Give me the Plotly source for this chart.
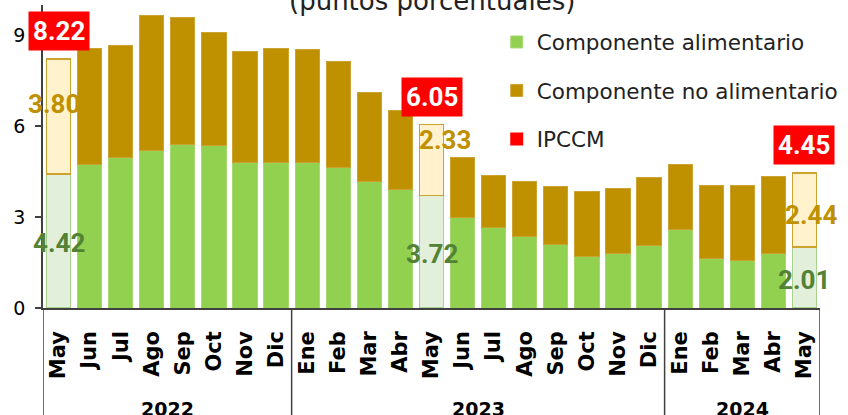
import plotly.graph_objects as go

# ---------------- data ----------------
months = ["May", "Jun", "Jul", "Ago", "Sep", "Oct", "Nov", "Dic",
          "Ene", "Feb", "Mar", "Abr", "May", "Jun", "Jul", "Ago", "Sep", "Oct", "Nov", "Dic",
          "Ene", "Feb", "Mar", "Abr", "May"]
years = ["2022", "2023", "2024"]
year_counts = [8, 12, 5]
food = [4.42, 4.74, 4.96, 5.21, 5.40, 5.37, 4.81, 4.80,
        4.80, 4.64, 4.17, 3.92, 3.72, 2.99, 2.65, 2.36, 2.09, 1.70, 1.80, 2.06,
        2.58, 1.65, 1.58, 1.80, 2.01]
nonfood = [3.80, 3.82, 3.69, 4.43, 4.20, 3.73, 3.66, 3.76,
           3.74, 3.49, 2.94, 2.60, 2.33, 1.97, 1.72, 1.82, 1.93, 2.13, 2.13, 2.24,
           2.15, 2.40, 2.47, 2.54, 2.44]
ipccm = [8.22, 8.56, 8.65, 9.64, 9.60, 9.10, 8.47, 8.56,
         8.54, 8.13, 7.11, 6.52, 6.05, 4.96, 4.37, 4.18, 4.02, 3.83, 3.93, 4.30,
         4.73, 4.05, 4.05, 4.34, 4.45]
highlight_month = "May"
title_text = "(puntos porcentuales)"
names = ["Componente alimentario", "Componente no alimentario", "IPCCM"]

# ---------------- styles ----------------
GREEN, GREEN_LINE = "#92D050", "#A6D872"
GREEN_HI, GREEN_HI_LINE, GREEN_TXT = "#E2EFDA", "#A9D18E", "#548235"
GOLD, GOLD_LINE = "#BF9000", "#CBA233"
GOLD_HI, GOLD_HI_LINE = "#FFF2CC", "#CDA22E"
RED = "#FF0000"
AXIS = "#404040"
TXT_FONT = "DejaVu Sans"
NUM_FONT = "Roboto"
BAR_W = 0.78

x_all = list(range(len(months)))
hl_idx = [i for i, m in enumerate(months) if m == highlight_month]
nm_idx = [i for i in x_all if i not in hl_idx]

fig = go.Figure()
# food component: regular and highlighted bars
fig.add_trace(go.Bar(
    x=nm_idx, y=[food[i] for i in nm_idx], name=names[0], legendgroup="a",
    marker=dict(color=GREEN, line=dict(color=GREEN_LINE, width=1)),
    width=BAR_W, hoverinfo="skip"))
fig.add_trace(go.Bar(
    x=hl_idx, y=[food[i] for i in hl_idx], name=names[0], showlegend=False,
    marker=dict(color=GREEN_HI, line=dict(color=GREEN_HI_LINE, width=1.5)),
    width=BAR_W, hoverinfo="skip"))
# non-food component
fig.add_trace(go.Bar(
    x=nm_idx, y=[nonfood[i] for i in nm_idx], name=names[1], legendgroup="b",
    marker=dict(color=GOLD, line=dict(color=GOLD_LINE, width=1)),
    width=BAR_W, hoverinfo="skip"))
fig.add_trace(go.Bar(
    x=hl_idx, y=[nonfood[i] for i in hl_idx], name=names[1], showlegend=False,
    marker=dict(color=GOLD_HI, line=dict(color=GOLD_HI_LINE, width=1.5)),
    width=BAR_W, hoverinfo="skip"))
# IPCCM legend entry (values shown as labelled boxes)
fig.add_trace(go.Scatter(
    x=[None], y=[None], name=names[2], legendgroup="c", mode="markers",
    marker=dict(symbol="square", color=RED, size=13)))

annotations = []
# label offsets (pixels) for the highlighted bars: (food dx, food dy, nonfood dx, nonfood dy)
label_offsets = [(0, -2, -5, 13), (0, -2, 13, 20), (0, -2, 7, -5)]
for k, i in enumerate(hl_idx):
    fdx, fdy, ndx, ndy = label_offsets[k]
    annotations.append(dict(
        x=i, y=food[i] / 2, xref="x", yref="y", text=f"{food[i]:.2f}", showarrow=False,
        xshift=fdx, yshift=fdy,
        font=dict(family=NUM_FONT, size=26, color=GREEN_TXT, weight="bold")))
    annotations.append(dict(
        x=i, y=food[i] + nonfood[i] / 2, xref="x", yref="y", text=f"{nonfood[i]:.2f}",
        showarrow=False, xshift=ndx, yshift=ndy,
        font=dict(family=NUM_FONT, size=26, color=GOLD, weight="bold")))
    annotations.append(dict(
        x=i, y=ipccm[i], xref="x", yref="y", text=f"{ipccm[i]:.2f}", showarrow=False,
        yanchor="bottom", yshift=8, bgcolor=RED, borderpad=4,
        font=dict(family=NUM_FONT, size=26, color="white", weight="bold")))

# year labels and group dividers
plot_h = 415 - 5 - 107
bottom = -107 / plot_h
shapes = []
start = 0
bounds = [-0.5]
for yr, n in zip(years, year_counts):
    center = start + (n - 1) / 2
    annotations.append(dict(
        x=center, y=0, xref="x", yref="paper", text=f"<b>{yr}</b>", showarrow=False,
        yanchor="middle", yshift=-101,
        font=dict(family=TXT_FONT, size=19, color="black")))
    start += n
    bounds.append(start - 0.5)
for b in bounds:
    shapes.append(dict(type="line", xref="x", yref="paper", x0=b, x1=b, y0=0, y1=bottom,
                       line=dict(color=AXIS, width=1.5)))

annotations.append(dict(
    x=0.5, y=1.013, xref="paper", yref="paper", text=title_text, showarrow=False,
    yanchor="middle", font=dict(family=TXT_FONT, size=26, color="#222222")))

fig.update_layout(
    width=848, height=415,
    margin=dict(l=43, r=19, t=5, b=107),
    barmode="stack", bargap=0.2,
    plot_bgcolor="white", paper_bgcolor="white",
    showlegend=True,
    legend=dict(x=(502 - 43) / 786, xanchor="left", y=1 - (21.5 - 5) / plot_h, yanchor="top",
                traceorder="grouped", tracegroupgap=17.5,
                font=dict(family=TXT_FONT, size=21.5, color="#222222"),
                bgcolor="rgba(0,0,0,0)"),
    xaxis=dict(range=[-0.5, 24.5], tickvals=x_all, ticktext=[f"<b>{m}</b>" for m in months],
               tickangle=-90, showline=True, linecolor=AXIS, linewidth=1.5,
               ticks="", showgrid=False, zeroline=False, ticklabelstandoff=13,
               tickfont=dict(family=TXT_FONT, size=21, color="black")),
    yaxis=dict(range=[0, 10], tickvals=[0, 3, 6, 9], showline=True, linecolor=AXIS,
               linewidth=1.5, ticks="outside", ticklen=6, tickcolor=AXIS, tickwidth=1.5,
               showgrid=False, zeroline=False, ticklabelstandoff=6,
               tickfont=dict(family=TXT_FONT, size=19, color="black")),
    annotations=annotations, shapes=shapes,
)

fig.write_html("out.html", config={"displayModeBar": False},
               post_script="document.body.style.margin='0';")
